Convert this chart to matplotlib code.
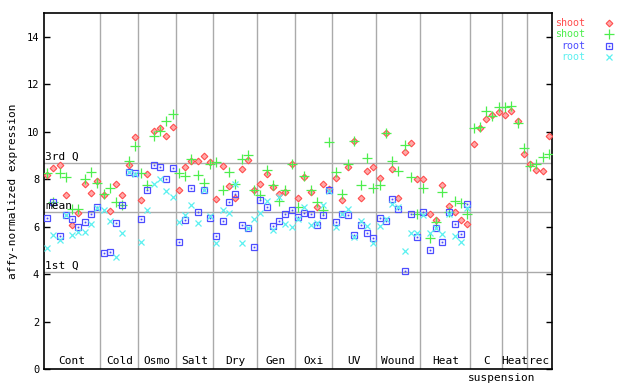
import numpy as np
import matplotlib
matplotlib.use("Agg")
import matplotlib.pyplot as plt
from matplotlib.transforms import blended_transform_factory

nan = np.nan

shoot_red = [8.18, 8.46, 8.6, 7.32, 6.06, 6.57, 7.8, 7.42, 7.92,
             7.32, 6.65, 7.79, 7.32, 8.59, 9.77,
             7.12, 8.22, 10.04, 10.18, 9.83, 10.21,
             7.54, 8.51, 8.79, 8.76, 8.97, 8.73,
             7.17, 8.55, 7.71, 7.22, 8.43, 8.8, 7.54,
             7.8, 8.22, 7.66, 7.37, 7.47, 8.65,
             7.2, 8.11, 7.45, 6.82, 7.8, 7.58,
             8.04, 7.11, 8.5, 9.6, 7.2, 8.34, 8.5,
             8.04, 9.97, 8.42, 7.2, 9.14, 9.52, 8.0,
             8.0, 6.52, 6.28, 7.75, 6.86, 6.61, 6.28, 6.1,
             9.48, 10.15, 10.53, 10.73, 10.82,
             10.7, 10.87, 10.45, 9.05,
             8.63, 8.38, 8.34, 9.81]

shoot_green = [8.28, 7.04, 8.25, 8.08, 6.74, 6.74, 8.0, 8.29, 7.84,
               7.38, 7.62, 7.05, 6.91, 8.76, 9.41,
               8.26, 7.76, 9.84, 10.04, 10.47, 10.74,
               8.25, 8.13, 8.84, 8.17, 7.83, 8.64,
               8.72, 7.55, 8.32, 7.79, 8.84, 9.03, 7.55,
               7.32, 8.38, 7.75, 7.09, 7.54, 8.65,
               6.82, 8.13, 7.54, 7.04, 6.71, 9.56,
               8.3, 7.37, 8.65, 9.6, 7.75, 8.89, 7.62,
               7.75, 9.97, 8.76, 8.34, 9.43, 8.08, 6.52,
               7.62, 5.51, 6.19, 7.45, 6.62, 7.07, 7.0, 6.52,
               10.15, 10.19, 10.87, 10.66, 11.04,
               11.04, 11.08, 10.36, 9.31,
               8.55, 8.63, 8.93, 9.05]

root_blue = [6.37, 7.04, 5.6, 6.5, 6.31, 6.0, 6.19, 6.54, 6.82,
             4.88, 4.92, 6.15, 6.92, 8.32, 8.25,
             6.31, 7.54, 8.59, 8.51, 8.01, 8.46,
             5.34, 6.27, 7.62, 6.61, 7.54, 6.35,
             5.61, 6.24, 7.03, 7.37, 6.07, 5.96, 5.13,
             7.11, 6.82, 6.02, 6.23, 6.52, 6.69,
             6.4, 6.57, 6.52, 6.06, 6.48, 7.54,
             6.19, 6.52, 6.48, 5.64, 6.06, 5.72, 5.51,
             6.36, 6.23, 7.16, 6.73, 4.12, 6.52, 5.55,
             6.61, 5.0, 5.93, 5.34, 6.61, 6.1, 5.68, 6.95] + [nan] * 13

root_cyan = [5.1, 5.64, 5.43, 6.5, 5.65, 5.76, 5.76, 6.12, 6.8,
             6.71, 6.26, 4.74, 5.72, 8.32, 8.22,
             5.34, 6.71, 7.8, 8.01, 7.51, 7.24,
             6.19, 6.48, 6.9, 6.15, 7.54, 6.44,
             5.3, 6.71, 6.57, 7.79, 5.3, 5.96, 6.33,
             6.57, 7.07, 5.85, 7.24, 6.1, 5.98,
             6.31, 6.82, 6.06, 6.15, 6.9, 7.5,
             5.98, 6.52, 6.73, 5.55, 6.23, 6.02, 5.3,
             6.02, 6.31, 6.95, 6.82, 4.96, 5.72, 5.72,
             6.48, 5.72, 5.93, 5.68, 6.52, 5.6, 5.34, 6.78] + [nan] * 13

group_labels = ["Cont", "Cold", "Osmo", "Salt", "Dry", "Gen", "Oxi", "UV",
                "Wound", "Heat", "C", "Heat", "rec"]
group_sizes = [9, 6, 6, 6, 7, 6, 6, 7, 7, 8, 5, 4, 4]
sub_label = "suspension"

q3, mean_v, q1 = 8.69, 6.62, 4.08
yticks = [0, 2, 4, 6, 8, 10, 12, 14]

series_names = ["shoot", "shoot", "root", "root"]

RED = "#ff4d4d"
GREEN = "#4dee4d"
BLUE = "#4d4dff"
CYAN = "#5cf0f0"
GRID = "#aaaaaa"
FONT = "DejaVu Sans Mono"

fig = plt.figure(figsize=(6.4, 3.84), dpi=100)
ax = fig.add_axes([44 / 640, 1 - 369 / 384, 508 / 640, (369 - 13.3) / 384])

n = len(shoot_red)
x = np.arange(n)
ax.set_xlim(-0.5, n - 0.5)
ax.set_ylim(0, 15)

# separators
bounds = np.cumsum(group_sizes)[:-1] - 0.5
for b in bounds:
    ax.axvline(b, color=GRID, lw=1.0, zorder=1)
for h in (q3, mean_v, q1):
    ax.axhline(h, color=GRID, lw=1.0, zorder=1)

ax.plot(x, shoot_red, ls="none", marker="D", ms=3.4, mfc="#ffaaaa", mec=RED, mew=0.8, zorder=3)
ax.plot(x, shoot_green, ls="none", marker="+", ms=6.5, mec=GREEN, mew=0.9, zorder=3)
ax.plot(x, root_blue, ls="none", marker="s", ms=4.6, mfc="none", mec=BLUE, mew=0.9, zorder=3)
ax.plot(x, root_blue, ls="none", marker="s", ms=0.9, mfc=BLUE, mec=BLUE, mew=0.3, zorder=3)
ax.plot(x, root_cyan, ls="none", marker="x", ms=4.6, mec=CYAN, mew=0.9, zorder=3)

# quartile labels
for h, t in ((q3, "3rd Q"), (mean_v, "mean"), (q1, "1st Q")):
    ax.text(-0.35, h + 0.05, t, fontsize=8, family=FONT, va="bottom", ha="left", zorder=4)

# group labels
starts = np.concatenate([[0], np.cumsum(group_sizes)[:-1]])
for s, sz, lab in zip(starts, group_sizes, group_labels):
    ax.text(s + sz / 2 - 0.5, 0.12, lab, fontsize=8, family=FONT, ha="center", va="bottom")
trans = blended_transform_factory(ax.transData, ax.transAxes)
c_idx = group_labels.index("C")
ax.text(starts[c_idx] + group_sizes[c_idx] - 0.5, -0.012, sub_label, fontsize=8,
        family=FONT, ha="center", va="top", transform=trans, clip_on=False)

ax.set_xticks([])
ax.set_yticks(yticks)
ax.set_yticklabels([str(v) for v in yticks], family=FONT, fontsize=7.5)
ax.tick_params(axis="y", direction="in", length=4, width=1, right=True, labelright=False)
for sp in ax.spines.values():
    sp.set_linewidth(1.2)
ax.set_ylabel("affy-normalized expression", family=FONT, fontsize=8, labelpad=6)

# legend
leg_colors = [RED, GREEN, BLUE, CYAN]
leg_y = [23.3, 34.3, 45.7, 56.5]
for name, col, yy, mk in zip(series_names, leg_colors, leg_y, ["D", "+", "s", "x"]):
    fig.text(585 / 640, 1 - yy / 384, name, color=col, family=FONT, fontsize=7.2,
             ha="right", va="center")
    if mk == "D":
        fig.add_artist(plt.Line2D([609 / 640], [1 - yy / 384], ls="none", marker=mk, ms=3.4,
                                  mfc="#ffaaaa", mec=col, mew=0.8))
    elif mk == "s":
        fig.add_artist(plt.Line2D([609 / 640], [1 - yy / 384], ls="none", marker=mk, ms=4.6,
                                  mfc="none", mec=col, mew=0.9))
        fig.add_artist(plt.Line2D([609 / 640], [1 - yy / 384], ls="none", marker=mk, ms=0.9,
                                  mfc=col, mec=col, mew=0.3))
    else:
        fig.add_artist(plt.Line2D([609 / 640], [1 - yy / 384], ls="none", marker=mk,
                                  ms=6.5 if mk == "+" else 4.6, mec=col, mew=0.9))

fig.savefig("out.png", dpi=100)
